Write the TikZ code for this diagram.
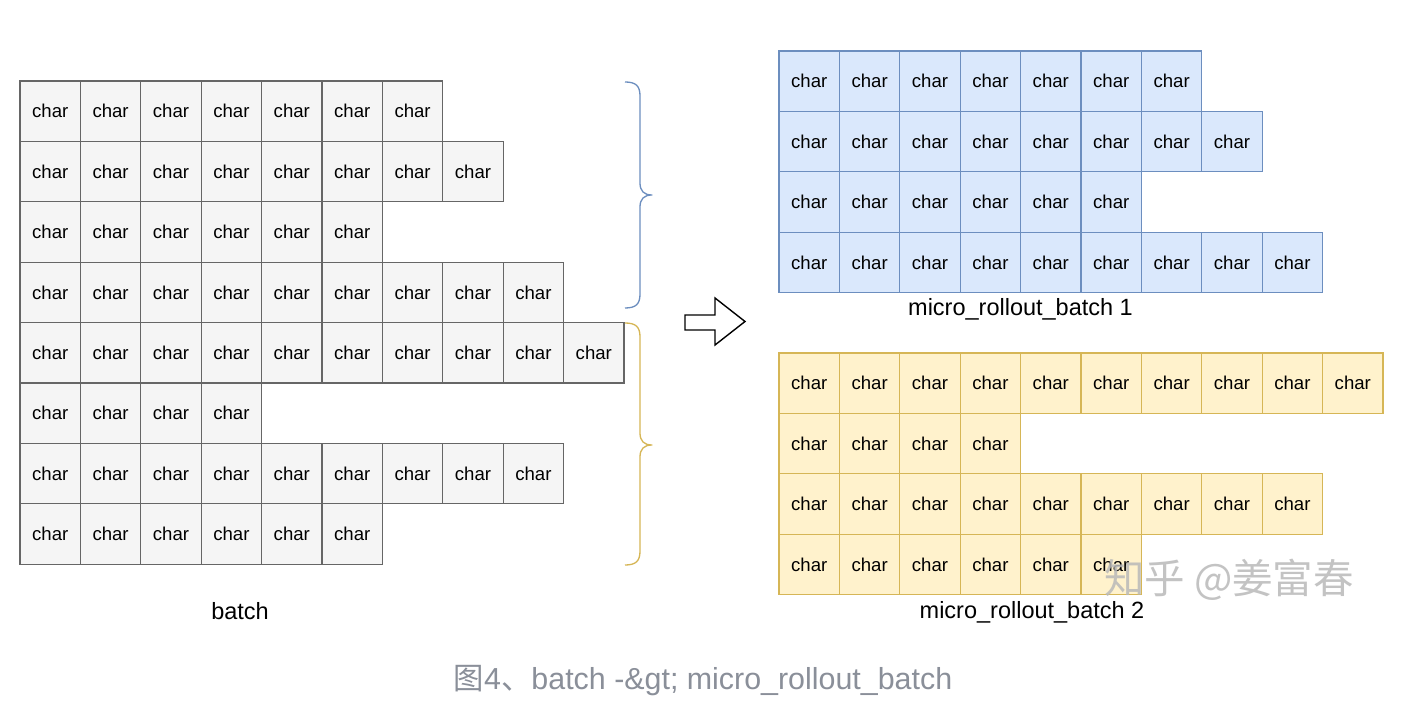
\documentclass[tikz,border=0pt]{standalone}
\usepackage{fontspec}
\setmainfont{Liberation Sans}
\newfontfamily\cjk{Noto Sans CJK SC}
\definecolor{grayfill}{HTML}{F5F5F5}
\definecolor{graydraw}{HTML}{666666}
\definecolor{bluefill}{HTML}{DAE8FC}
\definecolor{bluedraw}{HTML}{6C8EBF}
\definecolor{yelfill}{HTML}{FFF2CC}
\definecolor{yeldraw}{HTML}{D6B656}
\definecolor{captiongray}{HTML}{8A8F99}
\begin{document}
\begin{tikzpicture}[x=1pt,y=-1pt,
  cellbase/.style={draw, minimum width=60.4pt, minimum height=60.4pt, inner sep=0pt,
    font=\fontsize{18.6}{20}\selectfont, line width=1.1pt},
  graycell/.style={cellbase, fill=grayfill, draw=graydraw},
  bluecell/.style={cellbase, fill=bluefill, draw=bluedraw},
  yelcell/.style={cellbase, fill=yelfill, draw=yeldraw},
  lbl/.style={anchor=base, font=\fontsize{23.5}{26}\selectfont, inner sep=0pt},
  bracepath/.style={line width=1.3pt, line join=round},
  blockarrow/.style={draw=black, line width=1.4pt, fill=white, line join=miter}]
\useasboundingbox (0,0) rectangle (1418,708);
\fill[white] (0,0) rectangle (1418,708);

% left batch grid
\foreach \n [count=\r] in {7,8,6,9,10,4,9,6}
  \foreach \c in {1,...,\n}
    \node[graycell] (g-\r-\c) at ({20+(\c-0.5)*60.4},{81+(\r-0.5)*60.4}) {char};

% micro batch 1 (blue)
\foreach \n [count=\r] in {7,8,6,9}
  \foreach \c in {1,...,\n}
    \node[bluecell] (b-\r-\c) at ({779+(\c-0.5)*60.4},{51+(\r-0.5)*60.4}) {char};

% micro batch 2 (yellow)
\foreach \n [count=\r] in {10,4,9,6}
  \foreach \c in {1,...,\n}
    \node[yelcell] (y-\r-\c) at ({779+(\c-0.5)*60.4},{353+(\r-0.5)*60.4}) {char};

% labels
\node[lbl] (lbatch) at (240,619) {batch};
\node[lbl] (lmb1) at (1020.5,316) {micro\_rollout\_batch 1};
\node[lbl] (lmb2) at (1032,618) {micro\_rollout\_batch 2};

% braces
\draw[bracepath, draw=bluedraw] (625,82) .. controls (636,82) and (640,86) .. (640,96)
  -- (640,183) .. controls (640,191) and (644,195) .. (652,195)
  .. controls (644,195) and (640,199) .. (640,207)
  -- (640,294) .. controls (640,304) and (636,308) .. (625,308);
\draw[bracepath, draw=yeldraw] (625,323) .. controls (636,323) and (640,327) .. (640,337)
  -- (640,433) .. controls (640,441) and (644,445) .. (652,445)
  .. controls (644,445) and (640,449) .. (640,457)
  -- (640,551) .. controls (640,561) and (636,565) .. (625,565);

% block arrow
\draw[blockarrow] (685,315) -- (715,315) -- (715,298) -- (745,321.5) -- (715,345)
  -- (715,330) -- (685,330) -- cycle;

% watermark
\node[font=\cjk\fontsize{40.5}{42}\selectfont, text=gray!55, opacity=0.85, inner sep=0pt] (wm) at (1229,580) {知乎 @姜富春};

% caption
\node[anchor=base, font=\fontsize{30.4}{32}\selectfont, text=captiongray, inner sep=0pt] (cap) at (703,689)
  {{\cjk 图}4{\cjk 、}batch -\&gt; micro\_rollout\_batch};
\end{tikzpicture}
\end{document}
